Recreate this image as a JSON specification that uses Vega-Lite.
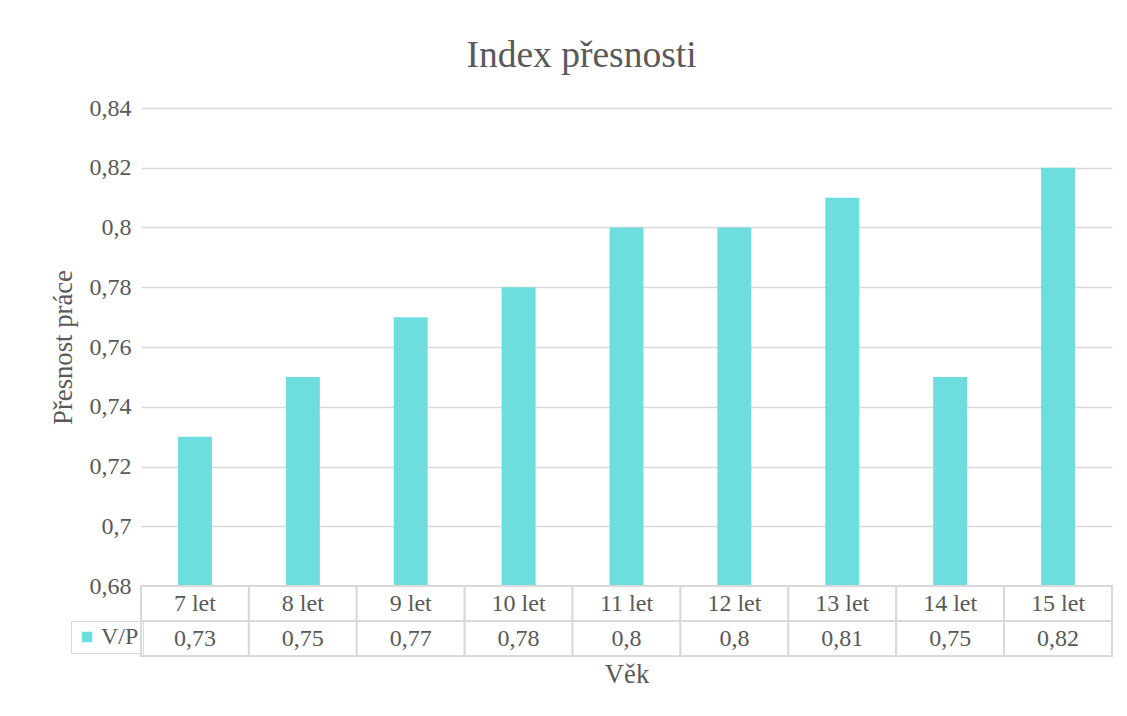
{
  "$schema": "https://vega.github.io/schema/vega-lite/v6.json",
  "background": "white",
  "padding": {"left": 50, "top": 36, "right": 15, "bottom": 5},
  "bounds": "flush",
  "title": {"text": "Index přesnosti", "font": "Liberation Serif", "fontSize": 37.5, "fontWeight": "normal", "color": "#595959", "anchor": "middle", "offset": 22},
  "config": {
    "locale": {"number": {"decimal": ",", "thousands": " ", "grouping": [3], "currency": ["", " Kč"]}},
    "view": {"stroke": null},
    "font": "Liberation Serif"
  },
  "data": {"values": [
    {"vek": "7 let", "hodnota": 0.73, "rada": "V/P"},
    {"vek": "8 let", "hodnota": 0.75, "rada": "V/P"},
    {"vek": "9 let", "hodnota": 0.77, "rada": "V/P"},
    {"vek": "10 let", "hodnota": 0.78, "rada": "V/P"},
    {"vek": "11 let", "hodnota": 0.8, "rada": "V/P"},
    {"vek": "12 let", "hodnota": 0.8, "rada": "V/P"},
    {"vek": "13 let", "hodnota": 0.81, "rada": "V/P"},
    {"vek": "14 let", "hodnota": 0.75, "rada": "V/P"},
    {"vek": "15 let", "hodnota": 0.82, "rada": "V/P"}
  ]},
  "spacing": 0,
  "vconcat": [
    {
      "width": 971,
      "height": 478,
      "mark": {"type": "bar", "clip": true},
      "encoding": {
        "x": {"field": "vek", "type": "nominal", "sort": null, "axis": null,
              "scale": {"paddingInner": 0.685, "paddingOuter": 0.3425}},
        "y": {"field": "hodnota", "type": "quantitative",
              "scale": {"domain": [0.68, 0.84], "zero": false, "nice": false},
              "axis": {"values": [0.68, 0.7, 0.72, 0.74, 0.76, 0.78, 0.8, 0.82, 0.84], "format": ".2~f",
                       "title": "Přesnost práce", "titleFont": "Liberation Serif", "titleFontSize": 26.7, "titleFontWeight": "normal", "titleColor": "#595959", "titlePadding": 12,
                       "labelFont": "Liberation Serif", "labelFontSize": 24, "labelColor": "#595959", "labelPadding": 10,
                       "domain": false, "ticks": false, "grid": true, "gridColor": "#d9d9d9", "gridWidth": 1.5}},
        "color": {"field": "rada", "type": "nominal", "scale": {"range": ["#6EDDE0"]},
                  "legend": {"title": null, "orient": "none", "legendX": -70, "legendY": 513, "symbolType": "square", "symbolSize": 110, "symbolStrokeWidth": 0,
                             "labelFont": "Liberation Serif", "labelFontSize": 24, "labelColor": "#595959", "labelOffset": 2,
                             "strokeColor": "#d9d9d9", "padding": 4}}
      }
    },
    {
      "width": 971,
      "height": 70,
      "layer": [
        {"mark": {"type": "rect", "fill": "white", "stroke": "#d9d9d9", "strokeWidth": 2},
         "encoding": {"y": {"datum": "hlavicka", "type": "nominal", "scale": {"domain": ["hlavicka", "hodnoty"], "paddingInner": 0, "paddingOuter": 0}, "axis": null}}},
        {"mark": {"type": "rect", "fill": "white", "stroke": "#d9d9d9", "strokeWidth": 2},
         "encoding": {"y": {"datum": "hodnoty", "type": "nominal"}}},
        {"mark": {"type": "text", "font": "Liberation Serif", "fontSize": 24, "color": "#595959"},
         "encoding": {"y": {"datum": "hlavicka", "type": "nominal"}, "text": {"field": "vek"}}},
        {"mark": {"type": "text", "font": "Liberation Serif", "fontSize": 24, "color": "#595959"},
         "encoding": {"y": {"datum": "hodnoty", "type": "nominal"}, "text": {"field": "hodnota", "format": ".2~f"}}}
      ],
      "encoding": {
        "x": {"field": "vek", "type": "nominal", "sort": null,
              "scale": {"paddingInner": 0, "paddingOuter": 0},
              "axis": {"labels": false, "ticks": false, "domain": false, "title": "Věk", "titleFont": "Liberation Serif", "titleFontSize": 26.7, "titleFontWeight": "normal", "titleColor": "#595959", "titlePadding": 5}}
      }
    }
  ]
}
